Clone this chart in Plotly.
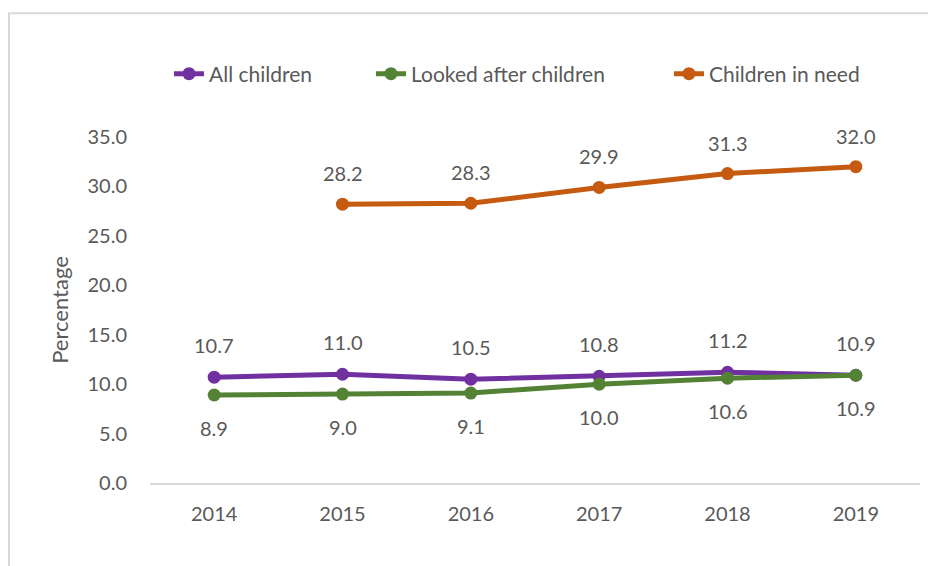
import plotly.graph_objects as go

years = ["2014", "2015", "2016", "2017", "2018", "2019"]
all_children = [10.7, 11.0, 10.5, 10.8, 11.2, 10.9]
looked_after = [8.9, 9.0, 9.1, 10.0, 10.6, 10.9]
children_in_need = [None, 28.2, 28.3, 29.9, 31.3, 32.0]

series = [
    ("All children", all_children, "#7030A0", 32, "legend", 0.0247),
    ("Looked after children", looked_after, "#548235", -33, "legend2", 0.2870),
    ("Children in need", children_in_need, "#C55A11", 31, "legend3", 0.6740),
]

FONT = "Lato, Open Sans, sans-serif"
TXT = "#595959"

fig = go.Figure()
annotations = []
legends = {}
for name, vals, color, shift, leg, lx in series:
    fig.add_trace(go.Scatter(
        x=years, y=vals, name=name, mode="lines+markers",
        line=dict(color=color, width=5),
        marker=dict(color=color, size=13),
        connectgaps=False, legend=leg,
    ))
    legends[leg] = dict(
        orientation="h", x=lx, xanchor="left", y=1.182, yanchor="middle",
        font=dict(family=FONT, size=21, color=TXT),
        bgcolor="rgba(0,0,0,0)",
    )
    for i, v in enumerate(vals):
        if v is None:
            continue
        annotations.append(dict(
            x=i, y=v, xref="x", yref="y", text=f"{v:.1f}",
            showarrow=False, yshift=shift,
            font=dict(family=FONT, size=20, color=TXT),
        ))

fig.update_layout(
    width=928, height=558,
    margin=dict(l=142, r=16, t=129, b=83),
    paper_bgcolor="white", plot_bgcolor="white",
    font=dict(family=FONT, size=20, color=TXT),
    showlegend=True,
    annotations=annotations,
    shapes=[dict(
        type="rect", xref="paper", yref="paper",
        x0=-0.1831, x1=1.3, y0=-0.5, y1=1.358,
        line=dict(color="#D9D9D9", width=2), fillcolor="rgba(0,0,0,0)",
        layer="below",
    )],
    **legends,
)

fig.update_xaxes(
    type="category", range=[-0.5, 5.5],
    showline=True, linecolor="#D9D9D9", linewidth=2,
    showgrid=False, zeroline=False,
    ticks="outside", ticklen=12, tickcolor="rgba(0,0,0,0)",
    tickfont=dict(family=FONT, size=20, color=TXT),
)
fig.update_yaxes(
    range=[0, 35], dtick=5, tick0=0, tickformat=".1f",
    showline=False, showgrid=False, zeroline=False,
    ticks="outside", ticklen=18, tickcolor="rgba(0,0,0,0)",
    tickfont=dict(family=FONT, size=20, color=TXT),
    title=dict(text="Percentage", standoff=12,
               font=dict(family=FONT, size=22, color=TXT)),
)

fig.write_html("out.html")
